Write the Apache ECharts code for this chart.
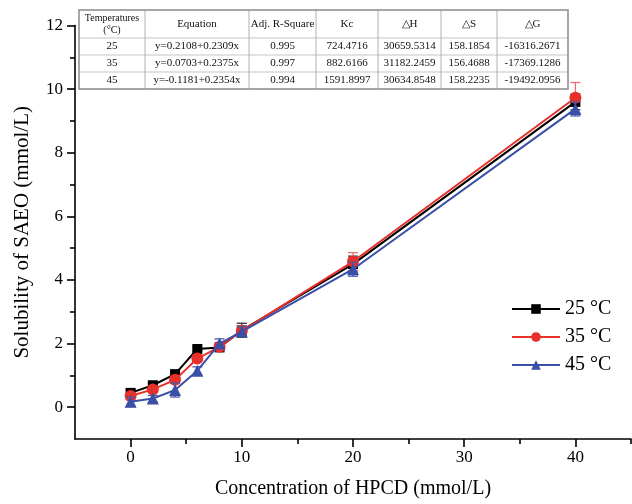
<!DOCTYPE html>
<html>
<head>
<meta charset="utf-8">
<script src="https://cdn.jsdelivr.net/npm/echarts@6/dist/echarts.min.js"></script>
<style>
html,body{margin:0;padding:0;background:#fff;}
#chart{width:632px;height:504px;}
</style>
</head>
<body>
<div id="chart"></div>
<script>
// ---- data ----
const concentrations = [0, 2, 4, 6, 8, 10, 20, 40];
const series25 = [0.45, 0.69, 1.04, 1.83, 1.88, 2.42, 4.50, 9.60];
const series35 = [0.35, 0.56, 0.86, 1.53, 1.90, 2.40, 4.58, 9.73];
const series45 = [0.17, 0.27, 0.54, 1.15, 2.00, 2.38, 4.34, 9.38];
const err25 = [0.12, 0.06, 0.08, 0.06, 0.08, 0.22, 0.25, 0.25];
const err35 = [0.10, 0.08, 0.10, 0.08, 0.10, 0.15, 0.28, 0.48];
const err45 = [0.15, 0.10, 0.22, 0.12, 0.15, 0.15, 0.22, 0.22];
const seriesNames = ['25 °C', '35 °C', '45 °C'];
const xMajorTicks = [0, 10, 20, 30, 40];
const xMinorTicks = [5, 15, 25, 35, 45];
const yMajorTicks = [0, 2, 4, 6, 8, 10, 12];
const yMinorTicks = [1, 3, 5, 7, 9, 11];
const tableHeader = ['Temperatures\n(°C)', 'Equation', 'Adj. R-Square', 'Kc', '△H', '△S', '△G'];
const tableRows = [
  ['25', 'y=0.2108+0.2309x', '0.995', '724.4716', '30659.5314', '158.1854', '-16316.2671'],
  ['35', 'y=0.0703+0.2375x', '0.997', '882.6166', '31182.2459', '156.4688', '-17369.1286'],
  ['45', 'y=-0.1181+0.2354x', '0.994', '1591.8997', '30634.8548', '158.2235', '-19492.0956']
];

// ---- style ----
const FONT = "'Liberation Serif', 'Times New Roman', serif";
const colors = ['#000000', '#e8302a', '#3a4fa6'];
const errColors = ['#333333', '#f07070', '#4a5aa8'];
const symbols = ['rect', 'circle', 'triangle'];
const symbolSizes = [10, 12, 12];

const chart = echarts.init(document.getElementById('chart'), null, {renderer: 'canvas'});

function errSeries(vals, errs, color, z) {
  return {
    type: 'custom',
    xAxisIndex: 0, yAxisIndex: 0,
    silent: true,
    z: z,
    data: concentrations.map((c, i) => [c, vals[i] - errs[i], vals[i] + errs[i]]),
    encode: {x: 0, y: [1, 2]},
    renderItem: function (params, api) {
      const xv = api.value(0);
      const lo = api.coord([xv, api.value(1)]);
      const hi = api.coord([xv, api.value(2)]);
      const w = 5;
      const st = {stroke: color, lineWidth: 1.3};
      return {
        type: 'group',
        children: [
          {type: 'line', shape: {x1: lo[0], y1: lo[1], x2: hi[0], y2: hi[1]}, style: st},
          {type: 'line', shape: {x1: lo[0] - w, y1: lo[1], x2: lo[0] + w, y2: lo[1]}, style: st},
          {type: 'line', shape: {x1: hi[0] - w, y1: hi[1], x2: hi[0] + w, y2: hi[1]}, style: st}
        ]
      };
    }
  };
}

function lineSeries(idx, vals) {
  return {
    type: 'line',
    name: seriesNames[idx],
    xAxisIndex: 0, yAxisIndex: 0,
    data: concentrations.map((c, i) => [c, vals[i]]),
    symbol: symbols[idx],
    symbolSize: symbolSizes[idx],
    showAllSymbol: true,
    lineStyle: {color: colors[idx], width: 2},
    itemStyle: {color: colors[idx]},
    z: 3 + idx * 2,
    animation: false
  };
}

// ---- table as graphic ----
const colX = [79, 145, 249, 316, 378, 441, 497, 568];
const rowY = [10, 38, 55, 72, 89];
const tableEls = [];
tableEls.push({type: 'rect', shape: {x: colX[0], y: rowY[0], width: colX[7] - colX[0], height: rowY[4] - rowY[0]},
  style: {fill: '#fff', stroke: 'none'}, z: 100});
for (let r = 1; r < rowY.length - 1; r++) {
  tableEls.push({type: 'line', shape: {x1: colX[0], y1: rowY[r], x2: colX[7], y2: rowY[r]},
    style: {stroke: '#d8d8d8', lineWidth: 1.5}, z: 101});
}
for (let c = 1; c < colX.length - 1; c++) {
  tableEls.push({type: 'line', shape: {x1: colX[c], y1: rowY[0], x2: colX[c], y2: rowY[4]},
    style: {stroke: '#b0b0b0', lineWidth: 1}, z: 101});
}
tableEls.push({type: 'rect', shape: {x: colX[0], y: rowY[0], width: colX[7] - colX[0], height: rowY[4] - rowY[0]},
  style: {fill: 'none', stroke: '#8a8a8a', lineWidth: 1.5}, z: 102});
const allRows = [tableHeader].concat(tableRows);
allRows.forEach((row, r) => {
  row.forEach((txt, c) => {
    tableEls.push({
      type: 'text',
      x: (colX[c] + colX[c + 1]) / 2,
      y: (rowY[r] + rowY[r + 1]) / 2,
      style: {text: txt, fill: '#111', font: (r === 0 && c === 0 ? '10px ' : '11px ') + FONT,
        align: 'center', verticalAlign: 'middle', lineHeight: 12},
      z: 103
    });
  });
});

const option = {
  backgroundColor: '#fff',
  animation: false,
  textStyle: {fontFamily: FONT},
  grid: {left: 75, right: 1, top: 25.6, bottom: 65, containLabel: false},
  legend: {
    data: seriesNames,
    orient: 'vertical',
    left: 506, top: 294,
    itemWidth: 48, itemHeight: 12, itemGap: 8,
    textStyle: {fontFamily: FONT, fontSize: 20, color: '#000'},
    selectedMode: false
  },
  xAxis: [{
    type: 'value', min: -5, max: 45,
    axisLine: {show: true, onZero: false, lineStyle: {color: '#000', width: 1.6}},
    axisTick: {show: true, customValues: xMajorTicks, length: 8, lineStyle: {color: '#000', width: 1.6}},
    axisLabel: {customValues: xMajorTicks, color: '#000', fontSize: 17, fontFamily: FONT, margin: 10},
    splitLine: {show: false},
    name: 'Concentration of HPCD (mmol/L)', nameLocation: 'middle', nameGap: 40,
    nameTextStyle: {fontFamily: FONT, fontSize: 20, color: '#000'}
  }, {
    type: 'value', min: -5, max: 45, position: 'bottom', offset: 0,
    axisLine: {show: false, onZero: false},
    axisTick: {show: true, customValues: xMinorTicks, length: 5, lineStyle: {color: '#000', width: 1.6}},
    axisLabel: {show: false},
    splitLine: {show: false}
  }],
  yAxis: [{
    type: 'value', min: -1, max: 12,
    axisLine: {show: true, onZero: false, lineStyle: {color: '#000', width: 1.6}},
    axisTick: {show: true, customValues: yMajorTicks, length: 8, lineStyle: {color: '#000', width: 1.6}},
    axisLabel: {customValues: yMajorTicks, color: '#000', fontSize: 17, fontFamily: FONT, margin: 12},
    splitLine: {show: false},
    name: 'Solubility of SAEO (mmol/L)', nameLocation: 'middle', nameGap: 42, nameRotate: 90,
    nameTextStyle: {fontFamily: FONT, fontSize: 21, color: '#000'}
  }, {
    type: 'value', min: -1, max: 12, position: 'left', offset: 0,
    axisLine: {show: false, onZero: false},
    axisTick: {show: true, customValues: yMinorTicks, length: 5, lineStyle: {color: '#000', width: 1.6}},
    axisLabel: {show: false},
    splitLine: {show: false}
  }],
  series: [
    errSeries(series25, err25, errColors[0], 2),
    lineSeries(0, series25),
    errSeries(series35, err35, errColors[1], 4),
    lineSeries(1, series35),
    errSeries(series45, err45, errColors[2], 6),
    lineSeries(2, series45)
  ],
  graphic: tableEls
};
chart.setOption(option);
</script>
</body>
</html>
